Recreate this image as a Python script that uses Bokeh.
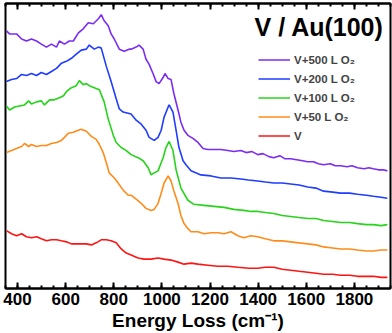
from bokeh.plotting import figure
from bokeh.models import (Range1d, LinearAxis, SingleIntervalTicker, Legend, LegendItem, Label,
                          CustomLabelingPolicy)
from bokeh.embed import file_html
from bokeh.resources import INLINE

# Energy loss (cm^-1) and intensity (arb. units, offset spectra)
e_500 = [354,367,396,417,437,458,479,499,520,541,562,574,595,615,632,653,673,694,715,736,748,760,777,789,802,823,843,864,872,893,905,922,934,947,963,976,988,1005,1013,1026,1038,1050,1067,1079,1092,1108,1129,1150,1171,1191,1216,1245,1274,1299,1328,1350,1375,1398,1420,1445,1465,1490,1510,1535,1560,1585,1606,1630,1650,1672,1700,1720,1742,1770,1790,1813,1840,1860,1879,1900,1920,1937]
i_500 = [254,251,251,246,244,246,244,241,238,241,238,244,241,244,244,252,256,262,261,266,270,264,259,251,246,236,234,236,236,238,240,236,226,221,212,204,202,208,212,207,206,192,176,164,156,151,148,144,138,137,137,137,136,135,136,134,135,132,133,130,129,131,128,128,127,126,125,125,123,122,123,121,121,120,121,119,118,119,118,117,117,116]

e_200 = [354,375,396,417,437,458,479,499,520,541,562,582,603,624,644,665,686,698,719,736,748,769,789,810,823,839,872,893,914,934,947,968,984,997,1009,1026,1030,1046,1059,1071,1088,1100,1121,1162,1204,1245,1287,1328,1360,1398,1430,1465,1500,1535,1570,1606,1640,1672,1710,1742,1780,1813,1850,1879,1910,1937]
i_200 = [204,206,207,211,210,212,210,213,211,214,217,222,224,227,231,235,236,240,236,238,237,219,204,187,177,174,172,166,162,156,149,146,149,156,169,179,181,174,156,139,126,122,116,112,111,109,109,108,107,106,105,104,104,103,102,100,99,96,95,94,94,93,92,91,90,89]

e_100 = [354,367,388,408,429,446,458,479,499,512,533,553,574,591,603,624,644,657,673,686,698,719,740,760,777,798,810,831,852,872,901,922,943,955,968,984,1005,1017,1030,1046,1059,1079,1108,1133,1175,1216,1258,1299,1340,1370,1398,1430,1465,1500,1535,1570,1606,1640,1672,1710,1742,1780,1813,1850,1879,1910,1937]
i_100 = [180,176,179,180,181,185,182,184,185,181,186,186,188,190,194,198,200,205,201,202,200,198,196,184,167,151,144,139,136,132,129,126,119,112,114,116,129,139,145,136,117,99,87,83,82,81,80,78,77,76,76,75,74,72,71,70,69,69,67,66,65,65,64,63,63,62,63]

e_50 = [354,375,396,417,429,446,458,479,499,520,541,562,582,595,611,632,653,665,686,707,727,740,756,769,781,802,818,839,860,872,893,914,934,955,968,984,997,1009,1026,1038,1050,1067,1079,1092,1108,1121,1150,1175,1204,1233,1258,1287,1316,1340,1370,1398,1430,1465,1500,1535,1570,1606,1640,1672,1710,1742,1780,1813,1850,1879,1910,1937]
i_50 = [134,136,138,140,143,140,142,140,141,141,143,144,146,149,153,154,156,157,155,150,147,142,134,124,114,109,104,97,92,92,88,84,79,77,78,84,94,104,111,106,96,84,72,64,59,56,56,54,55,55,54,56,52,50,52,51,49,47,47,46,45,44,43,41,40,39,39,38,37,37,38,38]

e_0 = [354,375,396,417,437,458,479,499,520,541,562,582,603,624,644,665,686,707,727,748,769,789,810,831,852,872,901,926,955,984,1009,1038,1067,1092,1121,1150,1191,1233,1274,1316,1361,1398,1430,1465,1500,1535,1570,1606,1640,1672,1710,1742,1780,1813,1850,1879,1910,1937]
i_0 = [57,54,52,54,51,50,51,49,47,48,48,47,46,44,44,44,44,43,45,48,48,47,45,39,35,33,30,29,29,30,29,28,26,24,25,24,23,22,22,21,20,20,21,21,19,18,17,16,15,14,14,13,13,12,12,12,11,11]

labels = ["V+500 L O\u2082", "V+200 L O\u2082", "V+100 L O\u2082", "V+50 L O\u2082", "V"]
colors = ["#7b2cf2", "#1f3dff", "#26d41a", "#ff8c1a", "#ff1414"]
series = [(e_500, i_500), (e_200, i_200), (e_100, i_100), (e_50, i_50), (e_0, i_0)]

FONT = "Liberation Sans"

p = figure(width=392, height=333, output_backend="svg", toolbar_location=None,
           x_range=Range1d(350, 1950), y_range=Range1d(0, 281),
           min_border_left=5, min_border_right=2, min_border_top=3, min_border_bottom=0,
           x_axis_location=None, y_axis_location=None)
p.styles = {"position": "absolute", "left": "0px", "top": "0px"}
p.grid.visible = False
p.outline_line_color = "black"
p.outline_line_width = 2
p.background_fill_color = "white"
p.border_fill_color = "white"

ticker = SingleIntervalTicker(interval=200, num_minor_ticks=4)
xb = LinearAxis(ticker=ticker, axis_label="Energy Loss (cm\u207b\u00b9)")
xt = LinearAxis(ticker=ticker)
for ax in (xb, xt):
    ax.axis_line_width = 2
    ax.major_tick_in = 6
    ax.major_tick_out = 0
    ax.minor_tick_in = 3
    ax.minor_tick_out = 0
    ax.major_tick_line_width = 2
    ax.minor_tick_line_width = 2
xb.major_label_text_font = FONT
xb.major_label_text_font_style = "bold"
xb.major_label_text_font_size = "17px"
xb.major_label_text_color = "black"
xb.major_label_standoff = 4
xb.axis_label_text_font = FONT
xb.axis_label_text_font_style = "bold"
xb.axis_label_text_font_size = "19px"
xb.axis_label_text_color = "black"
xb.axis_label_standoff = 2
xt.major_label_policy = CustomLabelingPolicy(code="return new Set()")
xt.major_label_text_font_size = "0px"
xt.major_label_standoff = 0
p.add_layout(xb, "below")
p.add_layout(xt, "above")

items = []
for (e, i), c, lab in zip(series, colors, labels):
    r = p.line(e, i, line_color=c, line_width=1.6)
    items.append(LegendItem(label=lab, renderers=[r]))

leg = Legend(items=items, location=(253, 143), padding=0, margin=0,
             glyph_width=32, glyph_height=19, label_height=19, spacing=0,
             label_standoff=4, label_text_font=FONT, label_text_font_style="bold",
             label_text_font_size="11.5px", border_line_color=None,
             background_fill_alpha=0)
p.add_layout(leg)

title = Label(x=1922, y=258, text="V / Au(100)", text_align="right", text_baseline="middle",
              text_font=FONT, text_font_style="bold", text_font_size="25px", text_color="black")
p.add_layout(title)

open("out.html", "w").write(file_html(p, INLINE))
